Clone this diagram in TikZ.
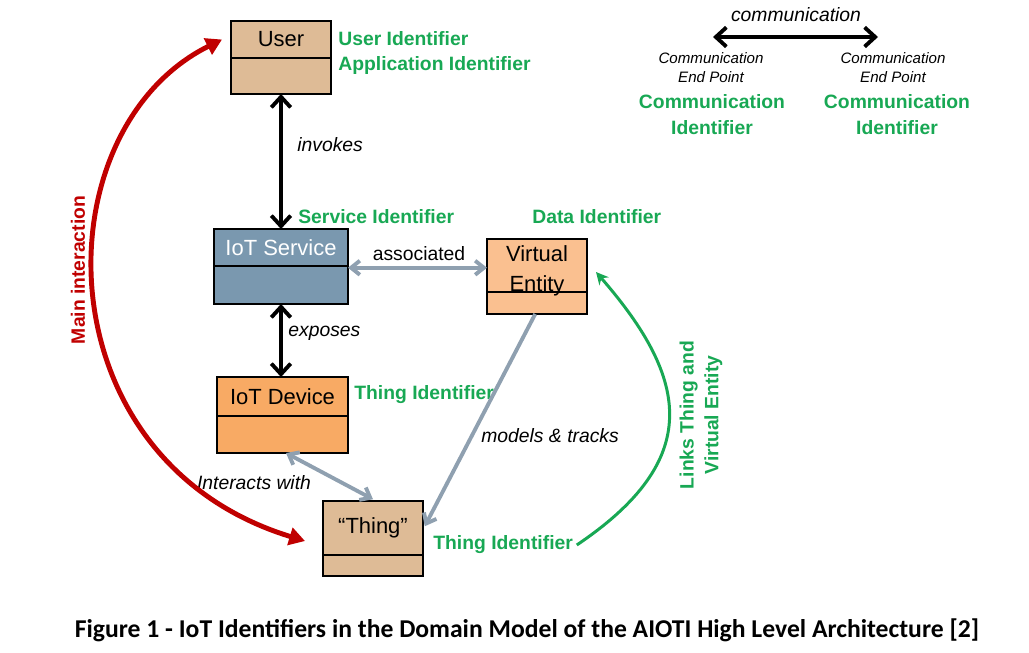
\documentclass[tikz,border=0pt]{standalone}
\usepackage{fontspec}
\setmainfont{Liberation Sans}
\newfontfamily\captionfont{Carlito}
\usetikzlibrary{arrows.meta,positioning,calc}

\definecolor{tanbox}{RGB}{222,187,150}
\definecolor{svcblue}{RGB}{122,152,175}
\definecolor{vepeach}{RGB}{250,192,144}
\definecolor{devorange}{RGB}{248,170,100}
\definecolor{idgreen}{RGB}{24,168,84}
\definecolor{linkgrey}{RGB}{143,160,176}
\definecolor{mainred}{RGB}{192,0,0}

\tikzset{
  boxtop/.style={draw=black, line width=0.85pt, outer sep=0pt, inner sep=0pt,
    align=center, font=\fontsize{12.5}{17}\selectfont},
  boxbot/.style={draw=black, line width=0.85pt, outer sep=0pt, inner sep=0pt},
  idtext/.style={text=idgreen, inner sep=0pt, font=\fontsize{11}{14.7}\selectfont\bfseries},
  reltext/.style={inner sep=0pt, font=\fontsize{11}{13}\selectfont\itshape},
  blackarrow/.style={{Straight Barb[length=6pt,width=11pt]}-{Straight Barb[length=6pt,width=11pt]}, line width=2.2pt},
  greyarrow/.style={draw=linkgrey, line width=2.2pt},
  mainarrow/.style={draw=mainred, line width=2.8pt, {Triangle[length=9pt,width=10pt]}-{Triangle[length=9pt,width=10pt]}},
  linkarrow/.style={draw=idgreen, line width=1.7pt, -{Stealth[length=7pt,width=7pt]}}
}

\begin{document}
\begin{tikzpicture}[x=0.02cm, y=-0.02cm]
  \useasboundingbox (0,0) rectangle (1029,653);

  % Boxes
  \node[boxtop, fill=tanbox, minimum width=2cm, minimum height=0.74cm] (user) at (281,39.5) {User};
  \node[boxbot, fill=tanbox, minimum width=2cm, minimum height=0.72cm, below=0pt of user] (userb) {};

  \node[boxtop, fill=svcblue, text=white, minimum width=2.68cm, minimum height=0.74cm] (svc) at (281,247.5) {IoT Service};
  \node[boxbot, fill=svcblue, minimum width=2.68cm, minimum height=0.76cm, below=0pt of svc] (svcb) {};

  \node[boxbot, fill=vepeach, minimum width=2cm, minimum height=0.44cm] (veb) at (537,303) {};
  \node[boxtop, fill=vepeach, minimum width=2cm, minimum height=1.06cm, above=0pt of veb,
    label={[align=center, font=\fontsize{12.5}{17}\selectfont, inner sep=0pt, yshift=-2.8pt]center:Virtual\\Entity}] (ve) {};

  \node[boxtop, fill=devorange, minimum width=2.62cm, minimum height=0.78cm] (dev) at (282.5,396.5) {IoT Device};
  \node[boxbot, fill=devorange, minimum width=2.62cm, minimum height=0.74cm, below=0pt of dev] (devb) {};

  \node[boxtop, fill=tanbox, minimum width=2cm, minimum height=1.08cm] (thing) at (373,528) {“Thing”};
  \node[boxbot, fill=tanbox, minimum width=2cm, minimum height=0.42cm, below=0pt of thing] (thingb) {};

  % Identifiers
  \node[idtext, anchor=west, align=left] (userid) at (338,53) {User Identifier\\Application Identifier};
  \node[idtext, anchor=west] (svcid) at (298,217) {Service Identifier};
  \node[idtext, anchor=west] (dataid) at (532,217) {Data Identifier};
  \node[idtext, anchor=west] (devid) at (354,395) {Thing Identifier};
  \node[idtext, anchor=west] (thingid) at (433,545) {Thing Identifier};

  % Relations
  \draw[blackarrow] (userb.south) -- (svc.north);
  \node[reltext, anchor=west] (invokes) at (297,145) {invokes};
  \draw[blackarrow] (svcb.south) -- (svcb.south |- dev.north);
  \node[reltext, anchor=west] (exposes) at (288,333) {exposes};

  \draw[greyarrow, {Straight Barb[length=5pt,width=8pt]}-{Straight Barb[length=5pt,width=8pt]}]
    ([yshift=-1pt]svc.south east) -- ([yshift=-1pt]svc.south east -| ve.west);
  \node[reltext, font=\fontsize{11}{13}\selectfont] (assoc) at (419,254) {associated};

  \draw[greyarrow, -{Straight Barb[length=5pt,width=8pt]}] ([xshift=-1pt]veb.south) -- ([xshift=1pt,yshift=1pt]thing.east);
  \node[reltext, anchor=west] (models) at (481,436) {models \& tracks};

  \draw[greyarrow, {Straight Barb[length=5pt,width=8pt]}-{Straight Barb[length=5pt,width=8pt]}]
    ([xshift=2pt]devb.south) -- ([yshift=1pt]thing.north);
  \node[reltext] (interacts) at (254,483) {Interacts with};

  % Main interaction
  \draw[mainarrow] ([xshift=-0.18cm]user.west) .. controls (40,130) and (40,460) .. ([xshift=-0.36cm,yshift=-0.26cm]thing.west);
  \node[rotate=90, text=mainred, inner sep=0pt, font=\fontsize{11}{13}\selectfont\bfseries] (mainlbl) at (78,270) {Main interaction};

  % Links Thing and Virtual Entity
  \draw[linkarrow] ([xshift=2pt]thingid.east) .. controls (703,460) and (690,380) .. ([xshift=0.18cm,yshift=-0.13cm]ve.east);
  \node[rotate=90, text=idgreen, inner sep=0pt, align=center, font=\fontsize{11}{14}\selectfont\bfseries] (linklbl) at (701,415) {Links Thing and\\Virtual Entity};

  % Communication legend
  \coordinate (comleft) at (713,37);
  \coordinate (comright) at (878,37);
  \draw[blackarrow] (comleft) -- (comright);
  \node[reltext] (comlbl) at (796,15) {communication};
  \node[inner sep=0pt, align=center, font=\fontsize{8.6}{10.8}\selectfont\itshape] (epleft) at (711,68) {Communication\\End Point};
  \node[inner sep=0pt, align=center, font=\fontsize{8.6}{10.8}\selectfont\itshape] (epright) at (893,68) {Communication\\End Point};
  \node[idtext, align=center] (comidleft) at (712,115) {Communication\\Identifier};
  \node[idtext, align=center] (comidright) at (897,115) {Communication\\Identifier};

  % Caption
  \node[inner sep=0pt, font=\fontsize{14.6}{17}\captionfont\bfseries] (caption) at (527,630)
    {Figure 1 - IoT Identifiers in the Domain Model of the AIOTI High Level Architecture [2]};
\end{tikzpicture}
\end{document}
